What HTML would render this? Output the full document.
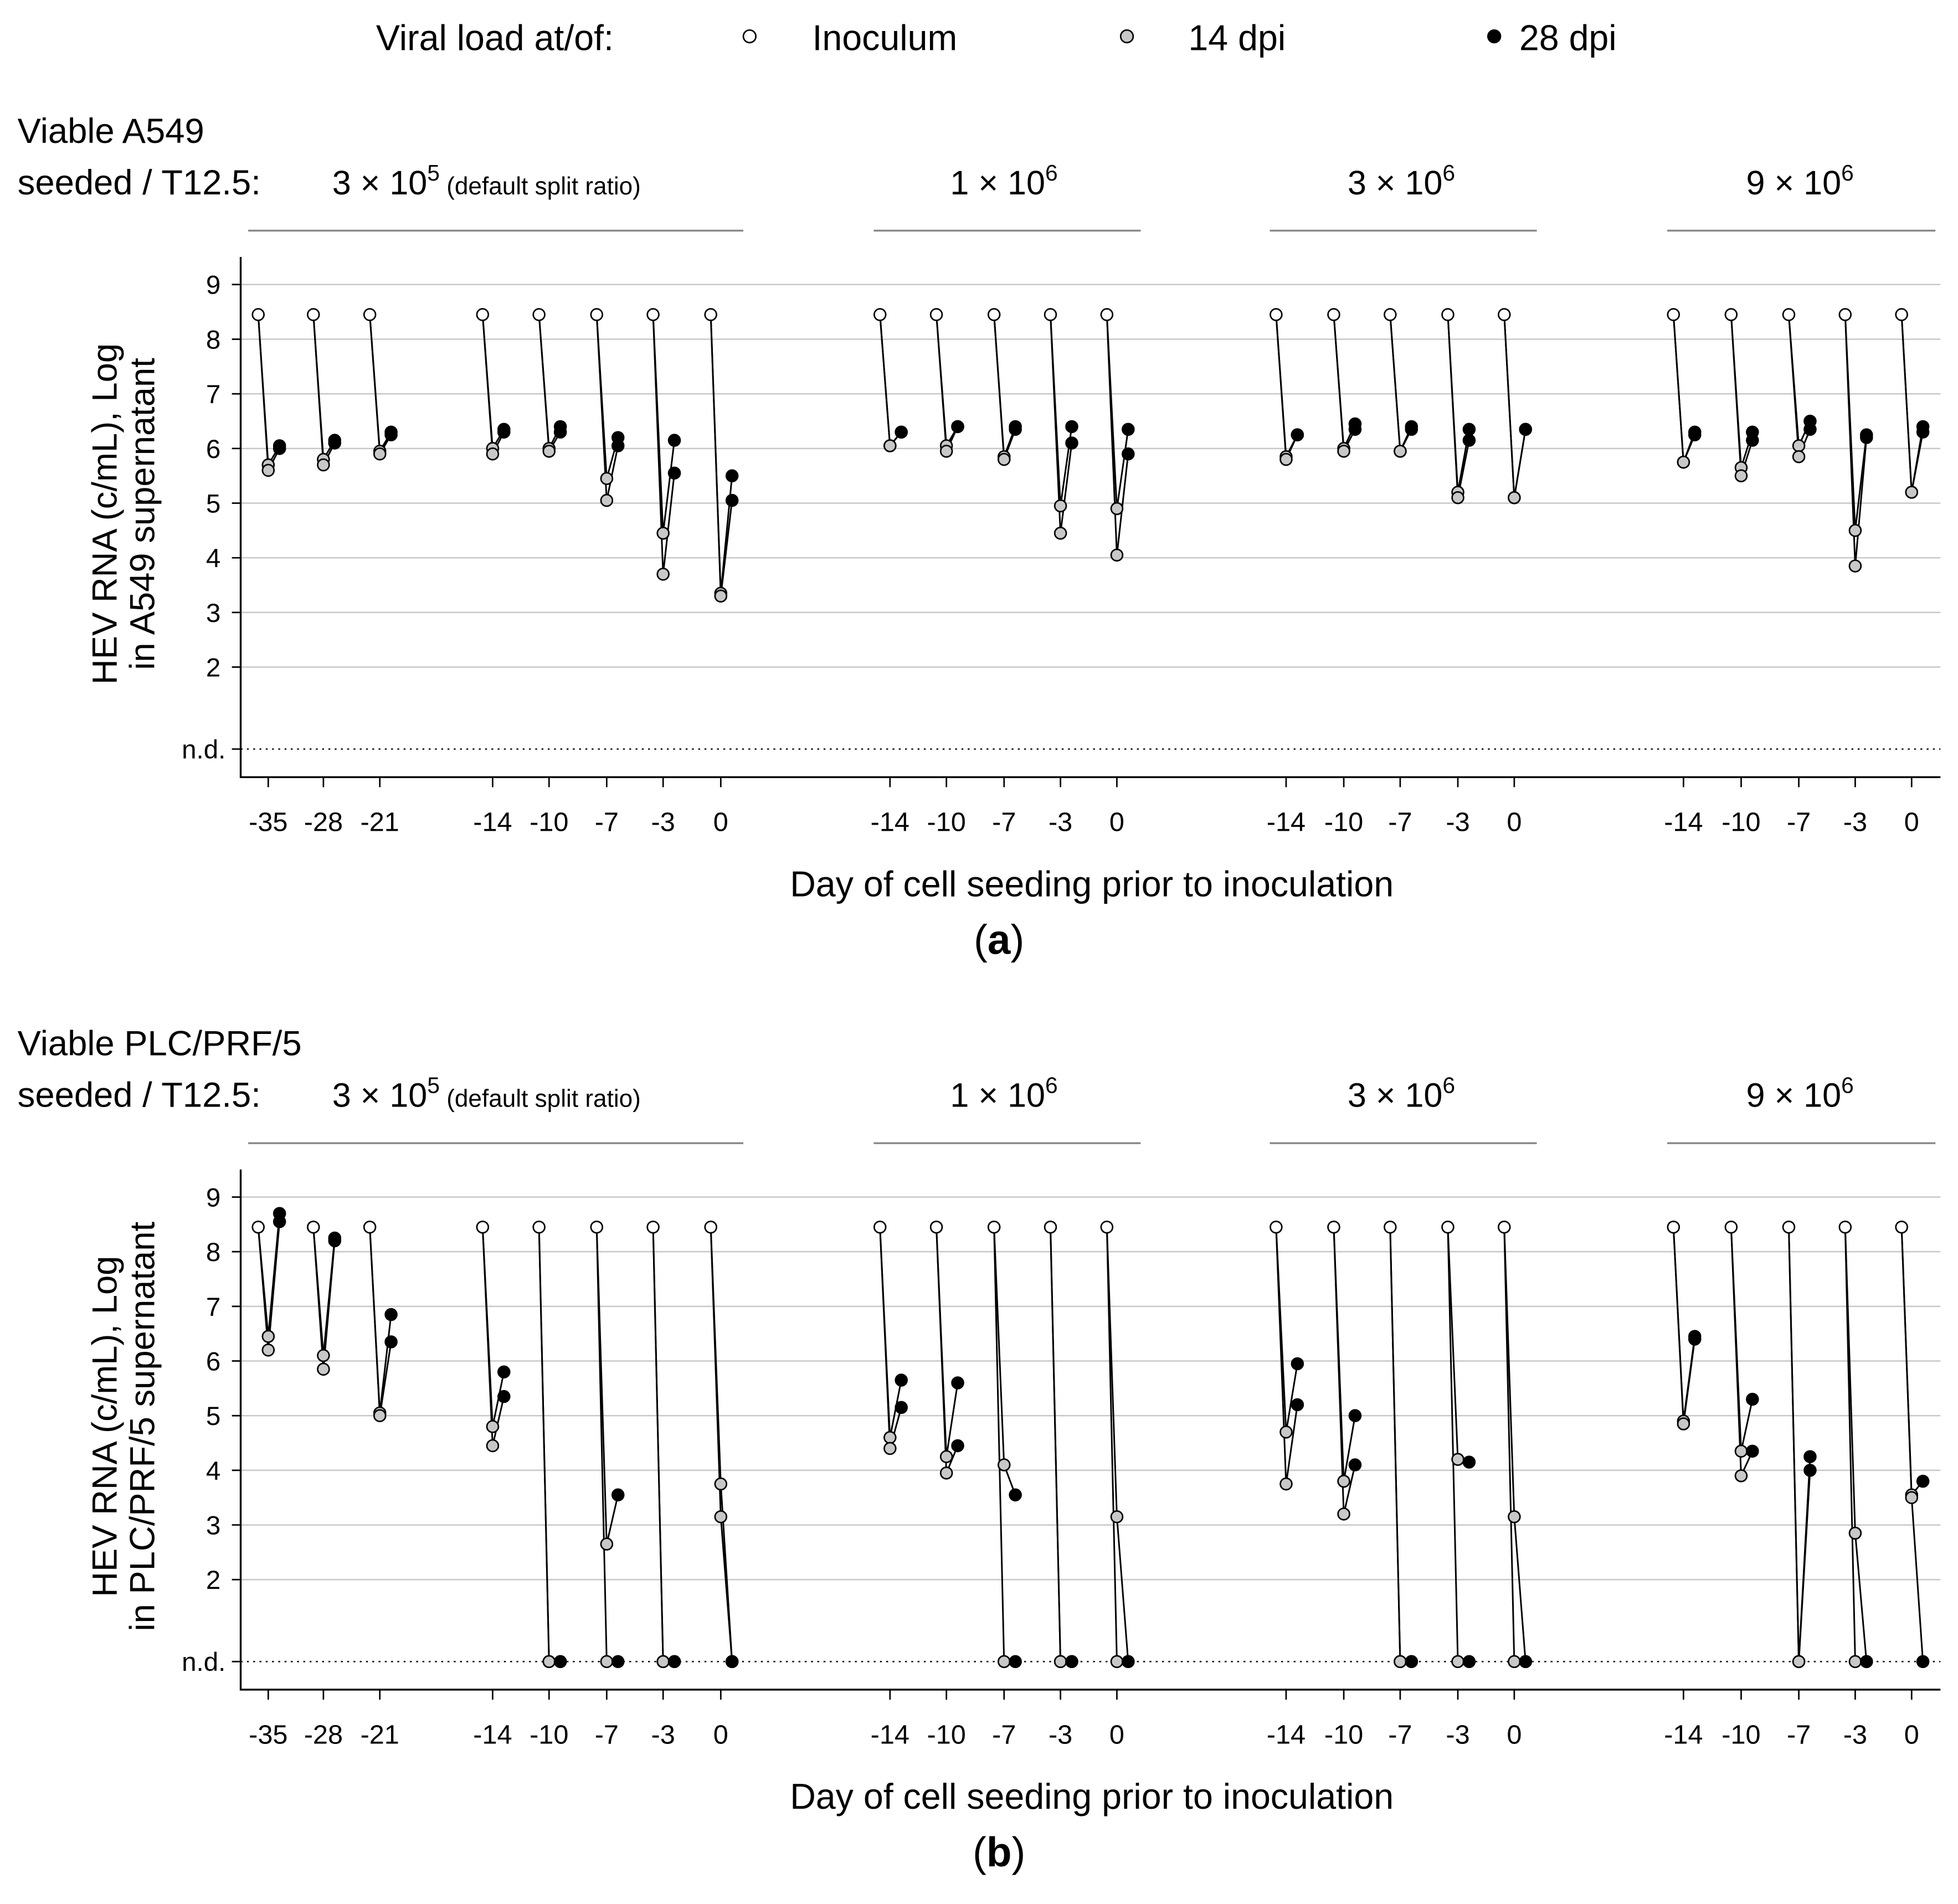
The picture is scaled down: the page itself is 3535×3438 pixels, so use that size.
<!DOCTYPE html>
<html><head><meta charset="utf-8"><style>
html,body{margin:0;padding:0;background:#fff}
svg{display:block}
text{font-family:"Liberation Sans",Arial,sans-serif;fill:#000}
</style></head><body>
<svg id="chart" width="3535" height="3438" viewBox="0 0 1562 1519" preserveAspectRatio="none" xmlns="http://www.w3.org/2000/svg">
<g font-size="28.5">
<text x="300" y="40">Viral load at/of:</text>
<circle cx="598" cy="29" r="5" fill="#fff" stroke="#000" stroke-width="1.2"/>
<text x="648" y="40">Inoculum</text>
<circle cx="899" cy="29" r="5" fill="#c8c8c8" stroke="#000" stroke-width="1.2"/>
<text x="948" y="40">14 dpi</text>
<circle cx="1192" cy="29" r="5" fill="#000" stroke="#000" stroke-width="1.2"/>
<text x="1212" y="40">28 dpi</text>
</g>
<g id="panels"></g>
</svg>
<script>
const groupLabels=["3 × 10","1 × 10","3 × 10","9 × 10"];
const groupExps=["5","6","6","6"];
const dayLabelsG1=["-35","-28","-21","-14","-10","-7","-3","0"];
const dayLabelsOther=["-14","-10","-7","-3","0"];
const yTickLabels=["9","8","7","6","5","4","3","2","n.d."];
const yTickValues=[9,8,7,6,5,4,3,2,0.5];
const inoculum=8.45;
const ND=0.5;
const a14r1=[5.7,5.8,5.95,6.0,6.0,5.45,4.45,3.35, 6.05,6.05,5.85,4.95,4.9, 5.85,6.0,5.95,5.2,5.1, 5.75,5.65,6.05,4.5,5.2];
const a14r2=[5.6,5.7,5.9,5.9,5.95,5.05,3.7,3.3, 6.05,5.95,5.8,4.45,4.05, 5.8,5.95,5.95,5.1,5.1, 5.75,5.5,5.85,3.85,5.2];
const a28r1=[6.05,6.15,6.3,6.35,6.4,6.2,6.15,5.5, 6.3,6.4,6.4,6.4,6.35, 6.25,6.45,6.4,6.35,6.35, 6.3,6.3,6.5,6.25,6.4];
const a28r2=[6.0,6.1,6.25,6.3,6.3,6.05,5.55,5.05, 6.3,6.4,6.35,6.1,5.9, 6.25,6.35,6.35,6.15,6.35, 6.25,6.15,6.35,6.2,6.3];
const b14r1=[6.45,6.1,5.05,4.8,ND,2.65,ND,3.75, 4.6,4.25,4.1,ND,3.15, 4.7,3.8,ND,4.2,3.15, 4.9,4.35,ND,2.85,3.55];
const b14r2=[6.2,5.85,5.0,4.45,ND,ND,ND,3.15, 4.4,3.95,ND,ND,ND, 3.75,3.2,ND,ND,ND, 4.85,3.9,ND,ND,3.5];
const b28r1=[8.7,8.25,6.85,5.8,ND,3.55,ND,ND, 5.65,5.6,3.55,ND,ND, 5.95,5.0,ND,4.15,ND, 6.45,5.3,4.25,ND,3.8];
const b28r2=[8.55,8.2,6.35,5.35,ND,ND,ND,ND, 5.15,4.45,ND,ND,ND, 5.2,4.1,ND,ND,ND, 6.4,4.35,4.0,ND,ND];

const NS="http://www.w3.org/2000/svg";
const root=document.getElementById('panels');
function mk(tag,attrs,parent,text){const e=document.createElementNS(NS,tag);for(const k in attrs)e.setAttribute(k,attrs[k]);if(text!==undefined)e.textContent=text;(parent||root).appendChild(e);return e;}
const condX=[206,250,295,385,430,476,521,567, 702,747,793,838,883, 1018,1064,1109,1155,1200, 1335,1381,1427,1472,1517];
function panel(off,cell,cellName,letter,d14a,d14b,d28a,d28b){
  const g=mk('g',{});
  
  
  const y=v=>off+227+(9-v)*43.6;
  let t=mk('text',{x:14,y:off+114,'font-size':28},g,'Viable '+cell);
  
  t=mk('text',{x:14,y:off+155,'font-size':28},g,'seeded / T12.5:');
  
  const gx=[265,758,1075,1393], lines=[[198,593],[697,910],[1013,1226],[1330,1544]];
  for(let i=0;i<4;i++){
    t=mk('text',{x:gx[i],y:off+155,'font-size':27},g);
    
    t.appendChild(document.createTextNode(groupLabels[i]));
    mk('tspan',{dy:-11,'font-size':18},t,groupExps[i]);
    if(i==0){mk('tspan',{dy:11,'font-size':19.5},t,' (default split ratio)');}
    const l=mk('line',{x1:lines[i][0],x2:lines[i][1],y1:off+184,y2:off+184,stroke:'#888','stroke-width':1.5},g);
    
  }
  yTickValues.forEach((v,i)=>{
    const gl=mk('line',{x1:192,x2:1548,y1:y(v),y2:y(v),stroke:v==ND?'#000':'#c8c8c8','stroke-width':1.1,'stroke-dasharray':v==ND?'1.5,3.5':''},g);
    
    mk('line',{x1:185,x2:192,y1:y(v),y2:y(v),stroke:'#000','stroke-width':1.2},g);
    const tl=mk('text',{x:v==ND?180:176,y:y(v)+7.5,'font-size':21,'text-anchor':'end'},g,yTickLabels[i]);
    
  });
  const ax=mk('path',{d:`M192 ${off+205} V${off+620} H1548`,fill:'none',stroke:'#000','stroke-width':1.5},g);
  
  const labs=dayLabelsG1.concat(dayLabelsOther,dayLabelsOther,dayLabelsOther);
  condX.forEach((x,i)=>{
    mk('line',{x1:x+8,x2:x+8,y1:off+620,y2:off+628,stroke:'#000','stroke-width':1.2},g);
    const tl=mk('text',{x:x+8,y:off+663,'font-size':21.5,'text-anchor':'middle'},g,labs[i]);
    
  });
  t=mk('text',{x:871,y:off+715,'font-size':28.5,'text-anchor':'middle'},g,'Day of cell seeding prior to inoculation');
  
  t=mk('text',{x:797,y:off+761,'font-size':33,'text-anchor':'middle'},g);
  
  mk('tspan',{},t,'(');mk('tspan',{'font-weight':'bold'},t,letter);mk('tspan',{},t,')');
  t=mk('text',{transform:`translate(93,${off+410}) rotate(-90)`,'font-size':28,'text-anchor':'middle'},g,'HEV RNA (c/mL), Log');
  
  t=mk('text',{transform:`translate(123,${off+410}) rotate(-90)`,'font-size':28,'text-anchor':'middle'},g,'in '+cellName+' supernatant');
  
  condX.forEach((x,i)=>{
    const reps=[[d14a[i],d28a[i]],[d14b[i],d28b[i]]];
    reps.forEach(r=>{
      const p=mk('polyline',{points:`${x},${y(inoculum)} ${x+8},${y(r[0])} ${x+17},${y(r[1])}`,fill:'none',stroke:'#000','stroke-width':1.3},g);
      
    });
    const c0=mk('circle',{cx:x,cy:y(inoculum),r:4.6,fill:'#fff',stroke:'#000','stroke-width':1.2},g);
    
    reps.forEach(r=>{
      const c1=mk('circle',{cx:x+8,cy:y(r[0]),r:4.6,fill:'#c8c8c8',stroke:'#000','stroke-width':1.2},g);
      
    });
    reps.forEach(r=>{
      const c2=mk('circle',{cx:x+17,cy:y(r[1]),r:4.6,fill:'#000',stroke:'#000','stroke-width':1.2},g);
      
    });
  });
}
panel(0,'A549','A549','a',a14r1,a14r2,a28r1,a28r2);
panel(728,'PLC/PRF/5','PLC/PRF/5','b',b14r1,b14r2,b28r1,b28r2);
</script>
</body></html>
